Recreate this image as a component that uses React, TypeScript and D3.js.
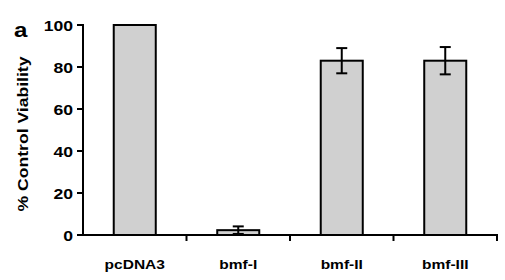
import React from "react";
import * as d3 from "d3";

const categories = ["pcDNA3", "bmf-I", "bmf-II", "bmf-III"];
const values = [100, 2.3, 83, 83];
const errors = [0, 1.8, 6, 6.5];
const yTicks = [0, 20, 40, 60, 80, 100];

const W = 505;
const H = 280;

export default function App() {
  const y = d3.scaleLinear().domain([0, 100]).range([235, 25]);
  const x = d3
    .scaleBand<string>()
    .domain(categories)
    .range([83, 497])
    .paddingInner(0.594)
    .paddingOuter(0.297);
  const bw = x.bandwidth();
  const step = x.step();
  const gap = (step - bw) / 2;
  const boundaries = categories.map((c) => (x(c) as number) - gap);
  boundaries.push(497);
  const font = "Arial, 'Liberation Sans', Helvetica, sans-serif";
  const sx = 1.15;
  return (
    <svg
      width={W}
      height={H}
      style={{ position: "absolute", left: 0, top: 0, background: "#fff" }}
      fontFamily={font}
      fontWeight="bold"
    >
      <text x={14} y={37} fontSize={21} fill="#000" transform={`translate(14,37) scale(${sx},1) translate(-14,-37)`}>a</text>
      {/* y label */}
      <text
        transform={`translate(28,134) rotate(-90) scale(${sx},1)`}
        textAnchor="middle"
        fontSize={15.3}
        fill="#000"
      >
        % Control Viability
      </text>
      {/* bars */}
      {categories.map((c, i) => (
        <rect
          key={c}
          x={x(c)}
          y={y(values[i])}
          width={bw}
          height={y(0) - y(values[i])}
          fill="#d0d0d0"
          stroke="#000"
          strokeWidth={2}
        />
      ))}
      {/* error bars */}
      {categories.map((c, i) =>
        errors[i] > 0 ? (
          <g key={c} stroke="#000" strokeWidth={2}>
            <line
              x1={(x(c) as number) + bw / 2}
              x2={(x(c) as number) + bw / 2}
              y1={y(values[i] + errors[i])}
              y2={y(values[i] - errors[i])}
            />
            <line
              x1={(x(c) as number) + bw / 2 - 5.5}
              x2={(x(c) as number) + bw / 2 + 5.5}
              y1={y(values[i] + errors[i])}
              y2={y(values[i] + errors[i])}
            />
            <line
              x1={(x(c) as number) + bw / 2 - 5.5}
              x2={(x(c) as number) + bw / 2 + 5.5}
              y1={y(values[i] - errors[i])}
              y2={y(values[i] - errors[i])}
            />
          </g>
        ) : null
      )}
      {/* y axis */}
      <line x1={83} x2={83} y1={y(100) - 1} y2={y(0) + 1} stroke="#000" strokeWidth={2} />
      {yTicks.map((t) => (
        <g key={t}>
          <line x1={77} x2={83} y1={y(t)} y2={y(t)} stroke="#000" strokeWidth={2} />
          <text
            transform={`translate(73,${y(t) + 5.5}) scale(${sx},1)`}
            textAnchor="end"
            fontSize={15.3}
            fill="#000"
          >
            {t}
          </text>
        </g>
      ))}
      {/* x axis */}
      <line x1={82} x2={498} y1={y(0)} y2={y(0)} stroke="#000" strokeWidth={2} />
      {boundaries.map((b, i) =>
        i === 0 ? null : (
          <line key={i} x1={b} x2={b} y1={y(0)} y2={y(0) + 6} stroke="#000" strokeWidth={2} />
        )
      )}
      {categories.map((c) => (
        <text
          key={c}
          transform={`translate(${(x(c) as number) + bw / 2},269) scale(${sx},1)`}
          textAnchor="middle"
          fontSize={13.5}
          fill="#000"
        >
          {c}
        </text>
      ))}
    </svg>
  );
}
